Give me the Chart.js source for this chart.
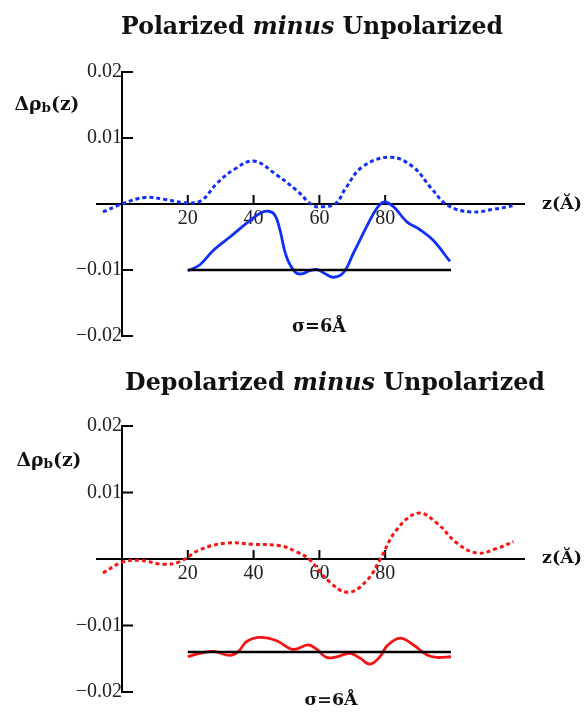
<!DOCTYPE html>
<html><head><meta charset="utf-8">
<script src="https://cdn.jsdelivr.net/npm/chart.js@4"></script>
<style>
body{margin:0;background:#fff;width:585px;height:713px;overflow:hidden;position:relative;}
canvas{position:absolute;left:0;}
.t{position:absolute;white-space:nowrap;font-family:"DejaVu Serif",serif;font-weight:bold;color:#111;transform:translate(-50%,-50%);line-height:1;}
.t sub{font-size:0.72em;vertical-align:-0.12em;}
</style></head><body>
<canvas id="c1" width="585" height="356" style="top:0"></canvas>
<canvas id="c2" width="585" height="357" style="top:356px"></canvas>
<div class="t" data-w="382" style="left:312px;top:27px;font-size:22px">Polarized <i>minus</i> Unpolarized</div>
<div class="t" data-w="420" style="left:335px;top:383px;font-size:22px">Depolarized <i>minus</i> Unpolarized</div>
<div class="t" data-w="65" style="left:47px;top:104px;font-size:17px">Δρ<sub>b</sub>(z)</div>
<div class="t" data-w="40" style="left:562px;top:204px;font-size:17px">z(Ă)</div>
<div class="t" data-w="54" style="left:319px;top:326px;font-size:17px">σ=6Å</div>
<div class="t" data-w="65" style="left:49px;top:460px;font-size:17px">Δρ<sub>b</sub>(z)</div>
<div class="t" data-w="40" style="left:562px;top:558px;font-size:17px">z(Ă)</div>
<div class="t" data-w="53" style="left:331px;top:700px;font-size:17px">σ=6Å</div>
<script>
// ---- data ----
const xTickValues = [20, 40, 60, 80];
const yTickValues = [-0.02, -0.01, 0.01, 0.02];
const baselineZ = [20, 100];
const topBaseline = [-0.01, -0.01];
const bottomBaseline = [-0.014, -0.014];

const topDottedZ = [-5.8, 0, 7, 13, 19, 24, 29, 34, 40, 47, 53, 58, 61, 65, 68, 73, 81.5, 88.5, 94, 99, 106, 113, 119.5];
const topDottedV = [-0.0012, 0, 0.001, 0.0007, 0.0002, 0.0005, 0.0032, 0.0052, 0.0065, 0.0044, 0.0021, -0.0002, -0.0004, 0.0001, 0.0024, 0.0056, 0.0071, 0.0056, 0.0024, -0.0002, -0.0012, -0.0008, -0.0002];

const topSolidZ = [20, 23.7, 27.8, 32.8, 37.9, 42, 44.5, 46.5, 48, 50, 52.6, 54.6, 57.1, 59.2, 61.2, 64.2, 67.3, 70.3, 74.4, 77.4, 79.6, 82.5, 86.6, 90.6, 94.6, 99.7];
const topSolidV = [-0.0101, -0.0092, -0.007, -0.005, -0.0029, -0.0014, -0.0011, -0.0017, -0.0039, -0.008, -0.0103, -0.0106, -0.0101, -0.0099, -0.0104, -0.0111, -0.0104, -0.0075, -0.0034, -0.0007, 0.0003, -0.0004, -0.0027, -0.0039, -0.0055, -0.0087];

const botDottedZ = [-5.8, 0, 5.5, 12.5, 17.6, 23.7, 31.9, 40, 48, 53, 57, 63, 68.8, 74.5, 78.4, 83.5, 90, 95.7, 101.8, 108, 114, 119];
const botDottedV = [-0.0021, -0.0005, -0.0002, -0.0008, -0.0004, 0.0014, 0.0024, 0.0022, 0.002, 0.0011, -0.0001, -0.0034, -0.005, -0.0032, -0.0001, 0.0044, 0.0069, 0.0054, 0.0024, 0.0009, 0.0016, 0.0026];

const botSolidZ = [20, 23.7, 27.8, 32.8, 35.4, 37.9, 42, 47, 52, 56.6, 59.2, 62.2, 65.3, 69.3, 72.3, 75.4, 78.4, 80.5, 84.5, 88.5, 92.6, 95.7, 100];
const botSolidV = [-0.0147, -0.0142, -0.0139, -0.0145, -0.0139, -0.0124, -0.0118, -0.0123, -0.0136, -0.0129, -0.0136, -0.0148, -0.0147, -0.0142, -0.0149, -0.0158, -0.0147, -0.0131, -0.0119, -0.0129, -0.0144, -0.0148, -0.0147];

const BLUE = '#1030f5';
const RED = '#f51515';

function pts(zs, vs) { return zs.map((z, i) => ({x: z, y: vs[i]})); }

const tickMarks = {
  id: 'tickMarks',
  beforeDatasetsDraw(chart) {
    const ctx = chart.ctx, xs = chart.scales.x, ys = chart.scales.y;
    const x0 = xs.getPixelForValue(0), y0 = ys.getPixelForValue(0);
    ctx.save();
    ctx.strokeStyle = '#000';
    ctx.lineWidth = 2;
    ctx.beginPath();
    yTickValues.forEach(v => {
      const p = ys.getPixelForValue(v);
      ctx.moveTo(x0 - 1, p); ctx.lineTo(x0 + 11, p);
    });
    xTickValues.forEach(v => {
      const p = xs.getPixelForValue(v);
      ctx.moveTo(p, y0); ctx.lineTo(p, y0 - 9);
    });
    ctx.stroke();
    ctx.restore();
  }
};

function makeChart(id, dottedZ, dottedV, solidZ, solidV, base, color, pad) {
  return new Chart(document.getElementById(id), {
    type: 'scatter',
    data: {
      datasets: [
        {data: pts(baselineZ, base), showLine: true, borderColor: '#000', borderWidth: 2.5, pointRadius: 0, tension: 0},
        {data: pts(solidZ, solidV), showLine: true, borderColor: color, borderWidth: 2.8, pointRadius: 0, tension: 0.4},
        {data: pts(dottedZ, dottedV), showLine: true, borderColor: color, borderWidth: 3, borderDash: [4, 3], pointRadius: 0, tension: 0.4}
      ]
    },
    options: {
      responsive: false,
      devicePixelRatio: 1,
      animation: false,
      layout: {padding: pad},
      plugins: {legend: {display: false}, tooltip: {enabled: false}, title: {display: false}},
      scales: {
        x: {
          type: 'linear', min: -7.6, max: 122.2,
          position: {y: 0},
          afterBuildTicks: s => { s.ticks = xTickValues.map(v => ({value: v})); },
          grid: {display: false, drawTicks: false},
          border: {display: true, color: '#000', width: 2},
          ticks: {padding: 3, color: '#222', font: {family: '"Liberation Serif", serif', size: 20}, maxRotation: 0, autoSkip: false,
                  callback: v => String(v)}
        },
        y: {
          type: 'linear', min: -0.02, max: 0.02,
          position: {x: 0},
          afterBuildTicks: s => { s.ticks = yTickValues.map(v => ({value: v})); },
          grid: {display: false, drawTicks: false},
          border: {display: true, color: '#000', width: 2},
          ticks: {padding: 4, color: '#222', font: {family: '"Liberation Serif", serif', size: 20}, autoSkip: false,
                  callback: v => (v < 0 ? '\u2212' + String(Math.abs(v)) : String(v))}
        }
      }
    },
    plugins: [tickMarks]
  });
}

makeChart('c1', topDottedZ, topDottedV, topSolidZ, topSolidV, topBaseline, BLUE, {left: 97, right: 61, top: 72, bottom: 20});
makeChart('c2', botDottedZ, botDottedV, botSolidZ, botSolidV, bottomBaseline, RED, {left: 97, right: 61, top: 70, bottom: 21});

document.querySelectorAll('.t').forEach(el => {
  const target = +el.dataset.w;
  const fs = parseFloat(el.style.fontSize);
  const w = el.getBoundingClientRect().width;
  if (w > 0) el.style.fontSize = (fs * target / w).toFixed(2) + 'px';
});
</script>
</body></html>
